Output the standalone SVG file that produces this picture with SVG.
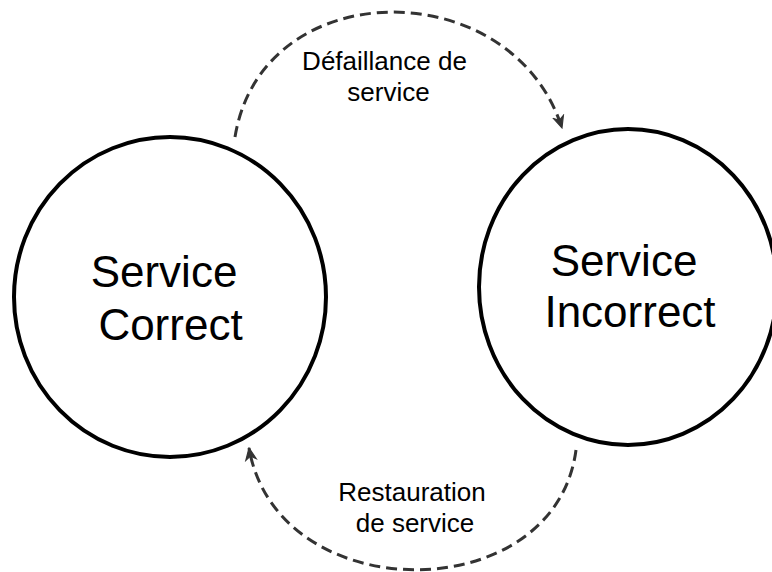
<svg xmlns="http://www.w3.org/2000/svg" width="772" height="572" viewBox="0 0 772 572">
  <style>
    .node { fill: #ffffff; stroke: #000000; stroke-width: 4; }
    .big { font-family: "Liberation Sans", Arial, sans-serif; font-size: 44px; fill: #000000; text-anchor: middle; }
    .lbl { font-family: "Liberation Sans", Arial, sans-serif; font-size: 26px; fill: #000000; text-anchor: middle; }
    .edge { fill: none; stroke: #333333; stroke-width: 3; stroke-dasharray: 11 6; }
  </style>
  <defs>
    <marker id="arrow" markerUnits="userSpaceOnUse" markerWidth="14" markerHeight="14" viewBox="0 0 12 12" refX="11" refY="6" orient="auto">
      <path d="M1,1.5 L11,6 L1,10.5 L4,6 Z" fill="#333333" stroke="#333333" stroke-width="1"/>
    </marker>
  </defs>
  <rect width="772" height="572" fill="#ffffff"/>
  <g id="connectors">
    <path class="edge" d="M235,137 C262,-28 512,-28 562,128" marker-end="url(#arrow)"/>
    <path class="edge" d="M576,450 C555,610 277,610 249,448" marker-end="url(#arrow)"/>
  </g>
  <g id="node-correct">
    <ellipse class="node" cx="170" cy="297" rx="156" ry="160"/>
    <text class="big" x="164" y="287">Service</text>
    <text class="big" x="170.5" y="340">Correct</text>
  </g>
  <g id="node-incorrect">
    <ellipse class="node" cx="628" cy="287" rx="149" ry="158"/>
    <text class="big" x="624" y="276">Service</text>
    <text class="big" x="630" y="327">Incorrect</text>
  </g>
  <g id="label-defaillance">
    <text class="lbl" x="384.5" y="70">Défaillance de</text>
    <text class="lbl" x="388.5" y="101">service</text>
  </g>
  <g id="label-restauration">
    <text class="lbl" x="412" y="501">Restauration</text>
    <text class="lbl" x="415" y="532">de service</text>
  </g>
</svg>
